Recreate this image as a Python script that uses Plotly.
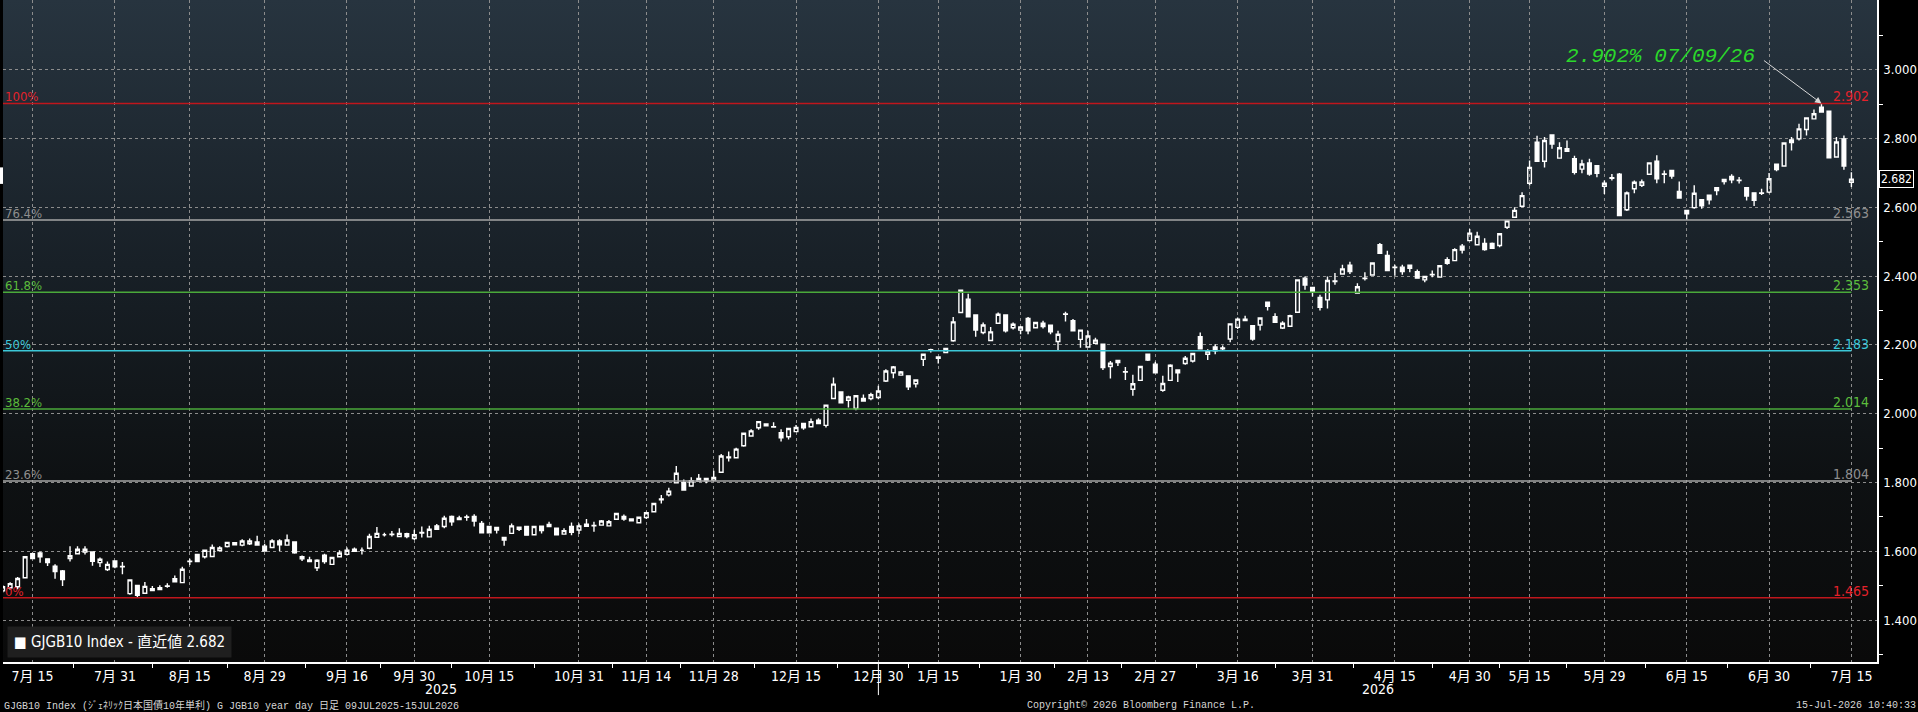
import base64

import pandas as pd
import plotly.graph_objects as go

# ── Data: JGB 10y generic yield, daily candles 09JUL2025 - 15JUL2026
# Japanese market holidays inside the window (no candle on these days)
HOLIDAYS = ['2025-07-21', '2025-08-11', '2025-09-15', '2025-09-23', '2025-10-13',
            '2025-11-03', '2025-11-24', '2025-12-31', '2026-01-01', '2026-01-02',
            '2026-01-12', '2026-02-11', '2026-02-23', '2026-03-20', '2026-04-29',
            '2026-05-04', '2026-05-05', '2026-05-06']
DATES = [d.strftime('%Y-%m-%d') for d in pd.bdate_range('2025-07-09', '2026-07-15')
         if d.strftime('%Y-%m-%d') not in HOLIDAYS]

# one line per month
OPEN = [
    1.485, 1.494, 1.497, 1.523, 1.593, 1.595, 1.578, 1.557, 1.543, 1.579, 1.593, 1.598, 1.598, 1.567, 1.547, 1.572,
    1.556, 1.477, 1.501, 1.478, 1.491, 1.494, 1.498, 1.520, 1.509, 1.570, 1.591, 1.584, 1.585, 1.602, 1.614, 1.625, 1.618, 1.622, 1.627, 1.615,
    1.611, 1.630, 1.618, 1.627, 1.584, 1.575, 1.552, 1.589, 1.562, 1.584, 1.591, 1.606, 1.603, 1.609, 1.641, 1.648, 1.649, 1.643, 1.651, 1.637,
    1.653, 1.642, 1.674, 1.672, 1.701, 1.697, 1.699, 1.701, 1.681, 1.672, 1.669, 1.640, 1.652, 1.670, 1.672, 1.648, 1.673, 1.678, 1.667, 1.650, 1.672, 1.662,
    1.679, 1.674, 1.676, 1.674, 1.693, 1.701, 1.694, 1.683, 1.698, 1.715, 1.750, 1.764, 1.799, 1.800, 1.790, 1.804, 1.812, 1.807,
    1.830, 1.872, 1.872, 1.907, 1.935, 1.959, 1.970, 1.962, 1.945, 1.933, 1.948, 1.972, 1.962, 1.981, 1.966, 2.044, 2.063, 2.039, 2.015, 2.044, 2.044, 2.047,
    2.095, 2.119, 2.112, 2.110, 2.087, 2.158, 2.185, 2.165, 2.178, 2.212, 2.294, 2.333, 2.287, 2.236, 2.213, 2.263, 2.287, 2.250, 2.243,
    2.277, 2.250, 2.263, 2.257, 2.210, 2.289, 2.270, 2.216, 2.194, 2.205, 2.202, 2.137, 2.155, 2.121, 2.071, 2.097, 2.173, 2.144,
    2.068, 2.097, 2.127, 2.146, 2.153, 2.224, 2.173, 2.194, 2.189, 2.217, 2.251, 2.271, 2.256, 2.258, 2.324, 2.282, 2.249, 2.254, 2.295, 2.394, 2.367,
    2.338, 2.331, 2.384, 2.406, 2.432, 2.351, 2.393, 2.403, 2.491, 2.460, 2.425, 2.426, 2.432, 2.413, 2.389, 2.404, 2.397, 2.448, 2.445, 2.487, 2.503,
    2.491, 2.495, 2.495, 2.489, 2.542, 2.571, 2.603, 2.670, 2.789, 2.734, 2.810, 2.743, 2.770, 2.741, 2.711, 2.729, 2.721, 2.661,
    2.684, 2.696, 2.593, 2.654, 2.664, 2.696, 2.734, 2.696, 2.707, 2.646, 2.591, 2.599, 2.622, 2.635, 2.657, 2.681, 2.690, 2.678, 2.657, 2.642, 2.641, 2.644,
    2.725, 2.720, 2.796, 2.799, 2.826, 2.857, 2.891, 2.879, 2.746, 2.799, 2.673,
]
HIGH = [
    1.502, 1.510, 1.525, 1.586, 1.596, 1.599, 1.580, 1.562, 1.546, 1.615, 1.615, 1.615, 1.600, 1.582, 1.570, 1.574,
    1.569, 1.519, 1.501, 1.511, 1.499, 1.501, 1.507, 1.530, 1.555, 1.578, 1.592, 1.603, 1.620, 1.615, 1.627, 1.627, 1.635, 1.637, 1.645, 1.622,
    1.635, 1.635, 1.649, 1.628, 1.588, 1.584, 1.577, 1.593, 1.584, 1.603, 1.611, 1.611, 1.611, 1.651, 1.671, 1.654, 1.659, 1.667, 1.654, 1.663,
    1.672, 1.674, 1.679, 1.703, 1.704, 1.703, 1.706, 1.708, 1.688, 1.672, 1.669, 1.640, 1.681, 1.670, 1.674, 1.672, 1.673, 1.686, 1.667, 1.667, 1.684, 1.681,
    1.694, 1.686, 1.691, 1.691, 1.710, 1.707, 1.696, 1.699, 1.715, 1.739, 1.764, 1.785, 1.848, 1.809, 1.815, 1.825, 1.812, 1.834,
    1.883, 1.890, 1.901, 1.945, 1.955, 1.977, 1.971, 1.975, 1.955, 1.957, 1.967, 1.972, 1.986, 1.987, 2.027, 2.105, 2.064, 2.052, 2.052, 2.056, 2.061, 2.081,
    2.129, 2.139, 2.124, 2.110, 2.100, 2.175, 2.189, 2.165, 2.190, 2.281, 2.359, 2.349, 2.287, 2.265, 2.252, 2.294, 2.287, 2.265, 2.255,
    2.281, 2.265, 2.270, 2.257, 2.241, 2.296, 2.275, 2.243, 2.241, 2.221, 2.202, 2.153, 2.155, 2.136, 2.113, 2.137, 2.173, 2.151,
    2.110, 2.144, 2.127, 2.168, 2.175, 2.236, 2.187, 2.202, 2.198, 2.261, 2.280, 2.285, 2.256, 2.278, 2.324, 2.292, 2.269, 2.288, 2.389, 2.399, 2.367,
    2.346, 2.399, 2.409, 2.433, 2.442, 2.379, 2.411, 2.438, 2.496, 2.474, 2.433, 2.433, 2.432, 2.419, 2.399, 2.416, 2.430, 2.455, 2.481, 2.493, 2.537,
    2.529, 2.510, 2.498, 2.523, 2.561, 2.600, 2.644, 2.736, 2.808, 2.804, 2.810, 2.789, 2.794, 2.750, 2.738, 2.741, 2.721, 2.678,
    2.697, 2.700, 2.646, 2.678, 2.681, 2.729, 2.751, 2.707, 2.707, 2.675, 2.591, 2.664, 2.622, 2.635, 2.657, 2.681, 2.696, 2.688, 2.657, 2.642, 2.654, 2.700,
    2.725, 2.787, 2.804, 2.843, 2.860, 2.884, 2.902, 2.879, 2.804, 2.809, 2.702,
]
LOW = [
    1.480, 1.488, 1.490, 1.523, 1.579, 1.567, 1.557, 1.520, 1.499, 1.570, 1.591, 1.591, 1.558, 1.554, 1.543, 1.551,
    1.533, 1.474, 1.465, 1.477, 1.485, 1.488, 1.494, 1.511, 1.508, 1.560, 1.569, 1.579, 1.583, 1.601, 1.611, 1.617, 1.615, 1.618, 1.617, 1.599,
    1.611, 1.601, 1.618, 1.593, 1.572, 1.570, 1.543, 1.564, 1.560, 1.582, 1.588, 1.599, 1.591, 1.606, 1.640, 1.643, 1.643, 1.642, 1.638, 1.633,
    1.640, 1.640, 1.664, 1.667, 1.674, 1.692, 1.689, 1.672, 1.654, 1.652, 1.652, 1.616, 1.652, 1.659, 1.647, 1.648, 1.652, 1.672, 1.648, 1.650, 1.647, 1.650,
    1.672, 1.657, 1.674, 1.674, 1.693, 1.689, 1.688, 1.683, 1.694, 1.715, 1.739, 1.759, 1.799, 1.778, 1.788, 1.804, 1.798, 1.807,
    1.830, 1.861, 1.872, 1.904, 1.935, 1.953, 1.965, 1.961, 1.919, 1.925, 1.948, 1.953, 1.962, 1.971, 1.960, 2.044, 2.032, 2.018, 2.010, 2.035, 2.039, 2.042,
    2.092, 2.103, 2.112, 2.069, 2.076, 2.139, 2.178, 2.146, 2.178, 2.209, 2.294, 2.282, 2.224, 2.231, 2.213, 2.263, 2.236, 2.245, 2.231,
    2.231, 2.250, 2.248, 2.231, 2.182, 2.268, 2.241, 2.192, 2.192, 2.205, 2.127, 2.102, 2.139, 2.098, 2.052, 2.097, 2.153, 2.119,
    2.064, 2.097, 2.092, 2.142, 2.149, 2.189, 2.156, 2.173, 2.183, 2.208, 2.246, 2.269, 2.212, 2.242, 2.300, 2.266, 2.246, 2.254, 2.295, 2.360, 2.341,
    2.300, 2.306, 2.375, 2.406, 2.406, 2.351, 2.387, 2.403, 2.466, 2.416, 2.401, 2.404, 2.411, 2.394, 2.382, 2.397, 2.397, 2.433, 2.445, 2.466, 2.503,
    2.491, 2.474, 2.481, 2.484, 2.537, 2.571, 2.600, 2.663, 2.734, 2.716, 2.770, 2.743, 2.763, 2.695, 2.699, 2.692, 2.687, 2.639,
    2.678, 2.576, 2.589, 2.641, 2.659, 2.696, 2.670, 2.670, 2.683, 2.627, 2.564, 2.596, 2.596, 2.608, 2.635, 2.666, 2.670, 2.669, 2.620, 2.604, 2.636, 2.641,
    2.705, 2.720, 2.765, 2.794, 2.809, 2.857, 2.877, 2.744, 2.744, 2.709, 2.659,
]
CLOSE = [
    1.497, 1.506, 1.521, 1.584, 1.579, 1.584, 1.567, 1.541, 1.518, 1.587, 1.606, 1.606, 1.571, 1.577, 1.562, 1.555,
    1.555, 1.517, 1.472, 1.498, 1.486, 1.489, 1.499, 1.511, 1.548, 1.571, 1.570, 1.603, 1.611, 1.610, 1.626, 1.619, 1.630, 1.630, 1.618, 1.601,
    1.630, 1.619, 1.633, 1.596, 1.578, 1.570, 1.574, 1.570, 1.582, 1.595, 1.603, 1.600, 1.603, 1.643, 1.652, 1.648, 1.650, 1.652, 1.643, 1.648,
    1.655, 1.664, 1.664, 1.696, 1.686, 1.692, 1.700, 1.688, 1.654, 1.654, 1.662, 1.633, 1.674, 1.664, 1.647, 1.672, 1.660, 1.672, 1.648, 1.660, 1.655, 1.674,
    1.673, 1.675, 1.688, 1.686, 1.710, 1.694, 1.689, 1.699, 1.712, 1.739, 1.752, 1.775, 1.827, 1.778, 1.805, 1.812, 1.805, 1.815,
    1.877, 1.874, 1.897, 1.943, 1.950, 1.977, 1.965, 1.961, 1.930, 1.957, 1.960, 1.959, 1.977, 1.971, 2.025, 2.086, 2.032, 2.049, 2.052, 2.037, 2.055, 2.066,
    2.124, 2.136, 2.121, 2.078, 2.098, 2.173, 2.186, 2.161, 2.190, 2.267, 2.359, 2.282, 2.243, 2.258, 2.238, 2.289, 2.241, 2.260, 2.252,
    2.241, 2.265, 2.253, 2.238, 2.231, 2.290, 2.241, 2.243, 2.226, 2.214, 2.134, 2.147, 2.149, 2.122, 2.087, 2.137, 2.156, 2.119,
    2.088, 2.141, 2.119, 2.161, 2.175, 2.189, 2.182, 2.183, 2.191, 2.261, 2.275, 2.275, 2.217, 2.278, 2.312, 2.266, 2.263, 2.285, 2.389, 2.374, 2.355,
    2.309, 2.387, 2.386, 2.421, 2.413, 2.369, 2.394, 2.438, 2.466, 2.416, 2.426, 2.413, 2.423, 2.394, 2.399, 2.405, 2.430, 2.437, 2.477, 2.476, 2.525,
    2.516, 2.477, 2.481, 2.523, 2.561, 2.591, 2.634, 2.716, 2.734, 2.794, 2.784, 2.773, 2.763, 2.702, 2.726, 2.697, 2.699, 2.670,
    2.686, 2.576, 2.642, 2.673, 2.674, 2.729, 2.683, 2.697, 2.691, 2.627, 2.581, 2.641, 2.604, 2.622, 2.649, 2.675, 2.680, 2.679, 2.633, 2.620, 2.642, 2.683,
    2.710, 2.787, 2.788, 2.828, 2.860, 2.872, 2.877, 2.744, 2.790, 2.720, 2.682,
]
assert len(DATES) == len(OPEN) == len(HIGH) == len(LOW) == len(CLOSE)

# labelled dates on the bottom axis
TICK_DATES = ['2025-07-15', '2025-07-31', '2025-08-15', '2025-08-29', '2025-09-16',
              '2025-09-30', '2025-10-15', '2025-10-31', '2025-11-14', '2025-11-28',
              '2025-12-15', '2025-12-30', '2026-01-15', '2026-01-30', '2026-02-13',
              '2026-02-27', '2026-03-16', '2026-03-31', '2026-04-15', '2026-04-30',
              '2026-05-15', '2026-05-29', '2026-06-15', '2026-06-30', '2026-07-15']
TICK_TEXT = ['7月 15', '7月 31', '8月 15', '8月 29', '9月 16', '9月 30', '10月 15',
             '10月 31', '11月 14', '11月 28', '12月 15', '12月 30', '1月 15', '1月 30',
             '2月 13', '2月 27', '3月 16', '3月 31', '4月 15', '4月 30', '5月 15',
             '5月 29', '6月 15', '6月 30', '7月 15']
YEAR_END = '2025-12-30'

Y_TICKS = [1.4, 1.6, 1.8, 2.0, 2.2, 2.4, 2.6, 2.8, 3.0, 3.2]
Y_MINOR = [1.3, 1.5, 1.7, 1.9, 2.1, 2.3, 2.5, 2.7, 2.9, 3.1]

# Fibonacci retracement 1.465 (low) -> 2.902 (high)
FIB_PCT = ['100%', '76.4%', '61.8%', '50%', '38.2%', '23.6%', '0%']
FIB_VALUES = [2.902, 2.563, 2.353, 2.183, 2.014, 1.804, 1.465]
FIB_LINE = ['#c0161c', '#a6a6a6', '#4aa93a', '#3cc8d8', '#4aa93a', '#a6a6a6', '#c0161c']
FIB_TEXT = ['#e3222b', '#8e8e8e', '#5cbc3c', '#3cc8d8', '#5cbc3c', '#8e8e8e', '#e3222b']

PEAK_DATE = '2026-07-09'
PEAK_VALUE = 2.902

# ── Style
NARROW = "'Liberation Sans Narrow', 'Arial Narrow', 'DejaVu Sans Condensed', 'Noto Sans CJK JP', sans-serif"
MONO = "'Liberation Mono', 'DejaVu Sans Mono', 'Noto Sans CJK JP', monospace"
GRID = '#8c8c8c'
X_RANGE = [0.045, 250.42]
Y_RANGE = [1.2782, 3.2026]

BG_SVG = (
    "<svg xmlns='http://www.w3.org/2000/svg' width='10' height='100' viewBox='0 0 10 100' "
    "preserveAspectRatio='none'><defs><linearGradient id='g' x1='0' y1='0' x2='0' y2='1'>"
    "<stop offset='0' stop-color='#27343f'/><stop offset='0.4' stop-color='#182027'/>"
    "<stop offset='0.72' stop-color='#0e1113'/><stop offset='1' stop-color='#0a0a0a'/>"
    "</linearGradient></defs><rect width='10' height='100' fill='url(#g)'/></svg>"
)
BG_SRC = 'data:image/svg+xml;base64,' + base64.b64encode(BG_SVG.encode()).decode()

x_idx = list(range(len(DATES)))
tick_idx = [DATES.index(d) for d in TICK_DATES]
minor_idx = [(a + b) / 2 for a, b in zip(tick_idx[:-1], tick_idx[1:])]
last_idx = len(DATES) - 1
sep_idx = DATES.index(YEAR_END)
peak_idx = DATES.index(PEAK_DATE)

fig = go.Figure()

# fib levels, from the left edge to the last session
for pct, val, col in zip(FIB_PCT, FIB_VALUES, FIB_LINE):
    fig.add_trace(go.Scatter(
        x=[X_RANGE[0], last_idx], y=[val, val], mode='lines',
        line=dict(color=col, width=1.5), hoverinfo='skip', showlegend=False,
    ))

fig.add_trace(go.Candlestick(
    x=x_idx, open=OPEN, high=HIGH, low=LOW, close=CLOSE,
    text=DATES,
    increasing=dict(line=dict(color='white', width=1.4), fillcolor='rgba(0,0,0,0)'),
    decreasing=dict(line=dict(color='white', width=1.4), fillcolor='white'),
    whiskerwidth=0, showlegend=False,
))

# triangles on the price axis
fig.add_trace(go.Scatter(
    x=[1.0017] * len(Y_TICKS), y=Y_TICKS, xaxis='x2', mode='markers',
    marker=dict(symbol='triangle-right', size=7, color='white'),
    cliponaxis=False, hoverinfo='skip', showlegend=False,
))

annotations = []
for pct, val, col in zip(FIB_PCT, FIB_VALUES, FIB_TEXT):
    annotations.append(dict(
        x=0, xref='paper', y=val, yref='y', text=pct, showarrow=False,
        xanchor='left', yanchor='bottom', yshift=-3,
        font=dict(family=NARROW, size=13, color=col),
    ))
    annotations.append(dict(
        x=last_idx, xref='x', y=val, yref='y', text=f'{val:.3f}', showarrow=False,
        xanchor='center', yanchor='bottom', yshift=-3,
        font=dict(family=NARROW, size=14, color=col),
    ))

# year labels centred on each year's visible span
annotations.append(dict(x=(X_RANGE[0] + sep_idx) / 2, xref='x', y=-0.041, yref='paper',
                        text='2025', showarrow=False, yanchor='middle',
                        font=dict(family=NARROW, size=14, color='white')))
annotations.append(dict(x=(sep_idx + X_RANGE[1]) / 2, xref='x', y=-0.041, yref='paper',
                        text='2026', showarrow=False, yanchor='middle',
                        font=dict(family=NARROW, size=14, color='white')))

# peak call-out
annotations.append(dict(
    x=peak_idx, xref='x', y=PEAK_VALUE, yref='y',
    text='', showarrow=True, ax=-59, ay=-44,
    arrowhead=2, arrowsize=1.3, arrowwidth=1, arrowcolor='#d8d8d8',
))
annotations.append(dict(
    x=peak_idx, xref='x', y=PEAK_VALUE, yref='y',
    text=f'{PEAK_VALUE:.3f}% 07/09/26', showarrow=False,
    xanchor='right', yanchor='middle', xshift=-64, yshift=47,
    font=dict(family=MONO, size=21, color='#2bd82b', style='italic'),
))

# last value tag on the axis
annotations.append(dict(
    x=1, xref='paper', y=CLOSE[-1], yref='y', text=f'{CLOSE[-1]:.3f}',
    showarrow=False, xanchor='left', xshift=2,
    bgcolor='black', bordercolor='white', borderwidth=1, borderpad=1,
    font=dict(family=NARROW, size=12, color='white'),
))

# legend box
annotations.append(dict(
    x=0, xref='paper', y=0.0295, yref='paper', xanchor='left', yanchor='middle', xshift=4,
    text=f'■ GJGB10 Index - 直近値 {CLOSE[-1]:.3f}', showarrow=False,
    bgcolor='#1f1f1f', borderpad=6,
    font=dict(family=NARROW, size=15, color='white'),
))

# footer
FOOT = dict(family=MONO, size=10, color='#d6d6d6')
annotations.append(dict(x=0, xref='paper', y=-0.065, yref='paper', xanchor='left', xshift=-1,
                        yanchor='middle', showarrow=False, font=FOOT,
                        text='GJGB10 Index (ｼﾞｪﾈﾘｯｸ日本国債10年単利) G JGB10 year day 日足 09JUL2025-15JUL2026'))
annotations.append(dict(x=0.6073, xref='paper', y=-0.065, yref='paper', xanchor='center',
                        yanchor='middle', showarrow=False, font=FOOT,
                        text='Copyright© 2026 Bloomberg Finance L.P.'))
annotations.append(dict(x=1.0219, xref='paper', y=-0.065, yref='paper', xanchor='right',
                        yanchor='middle', showarrow=False, font=FOOT,
                        text='15-Jul-2026 10:40:33'))

shapes = [
    # year divider tick
    dict(type='line', xref='x', yref='paper', x0=sep_idx, x1=sep_idx, y0=0, y1=-0.05,
         line=dict(color='white', width=1)),
    # last value marker on the left edge
    dict(type='rect', xref='paper', yref='y', x0=-0.0017, x1=0,
         y0=CLOSE[-1] - 0.014, y1=CLOSE[-1] + 0.034, fillcolor='white', line=dict(width=0)),
]

fig.update_layout(
    width=1918, height=712,
    margin=dict(l=3, r=41, t=0, b=50),
    paper_bgcolor='black', plot_bgcolor='#0a0a0a',
    images=[dict(source=BG_SRC, xref='paper', yref='paper', x=0, y=1, sizex=1, sizey=1,
                 xanchor='left', yanchor='top', sizing='stretch', layer='below')],
    showlegend=False, hovermode=False,
    annotations=annotations, shapes=shapes,
    xaxis=dict(
        type='linear', range=X_RANGE, rangeslider=dict(visible=False),
        tickvals=tick_idx, ticktext=TICK_TEXT, ticks='',
        tickfont=dict(family=NARROW, size=14, color='white'),
        showgrid=True, gridcolor=GRID, griddash='dot', gridwidth=1,
        showline=True, linecolor='white', linewidth=1.5, zeroline=False,
        minor=dict(tickvals=minor_idx, ticks='outside', ticklen=4, tickwidth=1,
                   tickcolor='white', showgrid=False),
        automargin=False,
    ),
    xaxis2=dict(overlaying='x', range=[0, 1], visible=False),
    yaxis=dict(
        side='right', range=Y_RANGE,
        tickvals=Y_TICKS, ticktext=[f'{v:.3f}' if v < 3.1 else '' for v in Y_TICKS],
        ticks='outside', ticklen=2, tickcolor='rgba(0,0,0,0)',
        tickfont=dict(family=NARROW, size=13, color='white'),
        showgrid=True, gridcolor=GRID, griddash='dot', gridwidth=1,
        showline=True, linecolor='white', linewidth=1.5, zeroline=False,
        minor=dict(tickvals=Y_MINOR, ticks='outside', ticklen=4, tickwidth=1,
                   tickcolor='white', showgrid=False),
        automargin=False,
    ),
)

# page margin off so the figure sits at the window origin
fig.write_html("out.html", config={'displayModeBar': False},
               post_script="document.body.style.margin='0';document.body.style.overflow='hidden';")
